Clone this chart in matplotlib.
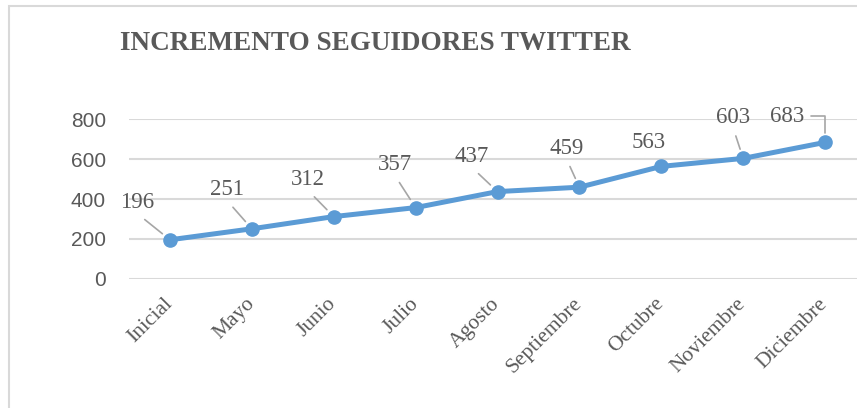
import matplotlib
matplotlib.use('Agg')
import matplotlib.pyplot as plt
from matplotlib.patches import Rectangle

months = ['Inicial', 'Mayo', 'Junio', 'Julio', 'Agosto', 'Septiembre',
          'Octubre', 'Noviembre', 'Diciembre']
followers = [196, 251, 312, 357, 437, 459, 563, 603, 683]
y_ticks = [0, 200, 400, 600, 800]
title = 'INCREMENTO SEGUIDORES TWITTER'

# where each data label sits relative to its point (pixels)
label_offsets = [(-33, 37), (-25, 39), (-26, 37), (-21, 43), (-26, 35),
                 (-13, 39), (-13, 24), (-10, 41), (-38, 26)]

line_color = '#5b9bd5'
text_gray = '#595959'
grid_gray = '#d9d9d9'

fig = plt.figure(figsize=(8.57, 4.08), dpi=100)
fig.patches.append(Rectangle((9 / 857, -0.1), 1.2, 1 - 6 / 408 + 0.1,
                             transform=fig.transFigure, fill=False,
                             edgecolor=grid_gray, linewidth=1.5))

ax = fig.add_axes([129 / 857, 1 - 279 / 408, 737 / 857, 160 / 408])
x = list(range(len(months)))
ax.plot(x, followers, color=line_color, linewidth=3.6, marker='o',
        markersize=9.5, solid_capstyle='round', zorder=3)

ax.set_xlim(-0.5, len(months) - 0.5)
ax.set_ylim(0, 800)
ax.set_yticks(y_ticks)
ax.set_xticks(x)
ax.set_xticklabels(months, rotation=45, ha='right', va='center',
                   rotation_mode='anchor', family='Liberation Serif',
                   fontsize=15.5, color=text_gray)
for lbl in ax.get_yticklabels():
    lbl.set_family('Liberation Sans')
ax.tick_params(axis='y', length=0, pad=16.5, labelsize=15, labelcolor=text_gray)
ax.tick_params(axis='x', length=0, pad=16)
ax.grid(axis='y', color=grid_gray, linewidth=1.5)
ax.set_axisbelow(True)
for s in ax.spines.values():
    s.set_visible(False)
ax.patch.set_alpha(0)

for i, (v, off) in enumerate(zip(followers, label_offsets)):
    if i == 6:
        arrow = None
    elif i == len(followers) - 1:
        arrow = dict(arrowstyle='-', color='#a6a6a6', linewidth=1.2,
                     relpos=(1, 0.5), shrinkA=3, shrinkB=7,
                     connectionstyle='angle,angleA=0,angleB=90,rad=0')
    else:
        arrow = dict(arrowstyle='-', color='#a6a6a6', linewidth=1.2,
                     relpos=(0.5, 0), shrinkA=4, shrinkB=7)
    ax.annotate(str(v), (i, v), xytext=off, textcoords='offset pixels',
                ha='center', va='center', family='Liberation Serif',
                fontsize=16.5, color=text_gray, arrowprops=arrow, zorder=4)

fig.text(120 / 857, 1 - 43 / 408, title, family='Liberation Serif',
         fontweight='bold', fontsize=19.5, color=text_gray, va='center',
         ha='left')

fig.savefig('out.png', dpi=100)
